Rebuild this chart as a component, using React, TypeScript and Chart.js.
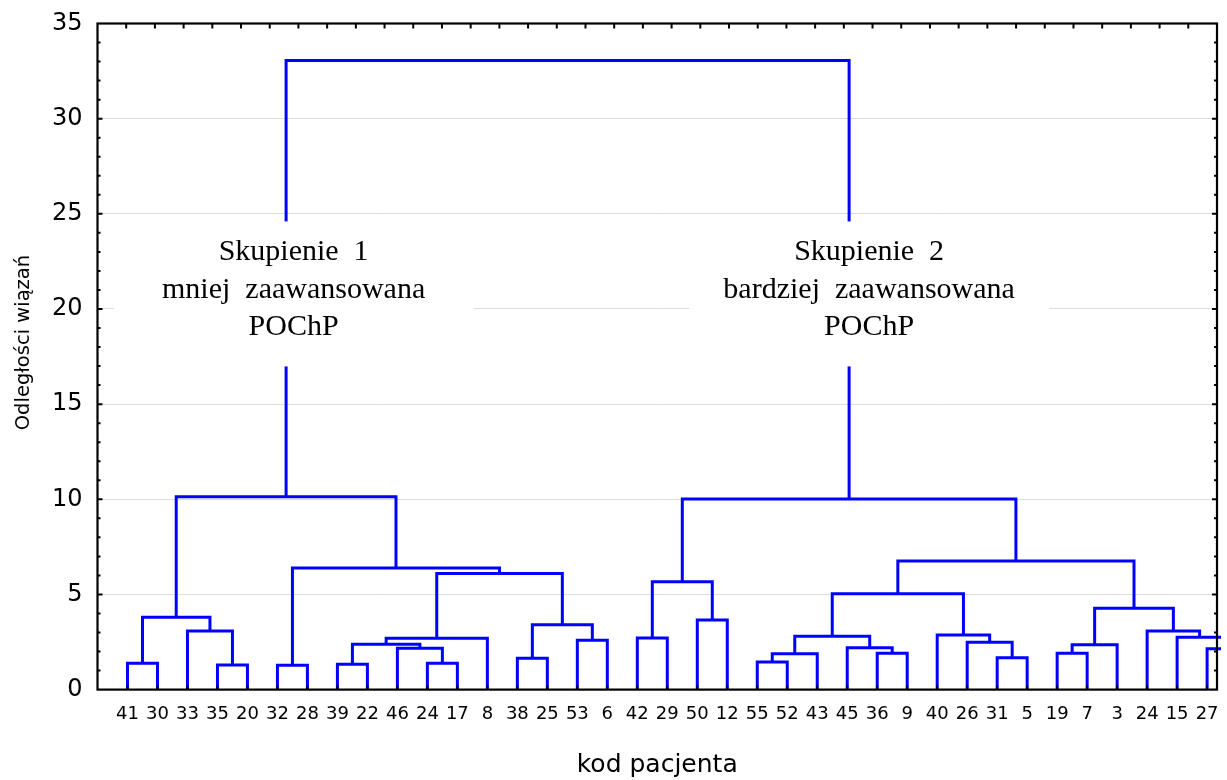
import React, { useEffect, useRef } from 'react';
import { Chart, registerables } from 'chart.js';

Chart.register(...registerables);

// Patient codes in dendrogram leaf order; the last leaf sits just past the right edge of the axis.
const leafLabels = [
  '41', '30', '33', '35', '20', '32', '28', '39', '22', '46', '24', '17', '8', '38', '25', '53', '6',
  '42', '29', '50', '12', '55', '52', '43', '45', '36', '9', '40', '26', '31', '5', '19', '7', '3',
  '24', '15', '27', '',
];

// Linkage table: merge k joins nodes mergeLeft[k] and mergeRight[k] at mergeHeight[k].
// Nodes 0..37 are leaves (by axis position); merge k creates node 38 + k.
const mergeLeft = [0, 3, 2, 38, 5, 7, 10, 9, 43, 46, 13, 15, 48, 47, 42, 41, 17, 19, 54, 21, 57, 25, 24, 58, 29, 28, 27, 61, 31, 66, 36, 35, 34, 67, 65, 56, 53];
const mergeRight = [1, 4, 39, 40, 6, 8, 11, 44, 45, 12, 14, 16, 49, 50, 51, 52, 18, 20, 55, 22, 23, 26, 59, 60, 30, 62, 63, 64, 32, 33, 37, 68, 69, 70, 71, 72, 73];
const mergeHeight = [
  1.38, 1.29, 3.08, 3.8, 1.28, 1.33, 1.38, 2.17, 2.38, 2.7, 1.65, 2.59, 3.41, 6.1, 6.39, 10.13,
  2.71, 3.66, 5.67, 1.45, 1.89, 1.91, 2.2, 2.8, 1.68, 2.49, 2.87, 5.03, 1.91, 2.36, 2.14, 2.75,
  3.08, 4.28, 6.76, 10.02, 33.06,
];

const yTicks = [0, 5, 10, 15, 20, 25, 30, 35];
const xTitle = 'kod pacjenta';
const yTitle = 'Odległości wiązań';

const clusterNoteLines = [
  ['Skupienie  1', 'mniej  zaawansowana', 'POChP'],
  ['Skupienie  2', 'bardziej  zaawansowana', 'POChP'],
];

// Placement of the cluster captions, in axis units.
const noteLayout = [
  { x: 5.54, halfWidth: 6, top: 24.6, bottom: 16.98, baselines: [22.56, 20.58, 18.65] },
  { x: 24.73, halfWidth: 6, top: 24.6, bottom: 16.98, baselines: [22.56, 20.58, 18.65] },
];

const SANS = '"DejaVu Sans", sans-serif';
const SERIF = '"Liberation Serif", "Times New Roman", serif';
const LINK_COLOR = '#0000ff';

type Pt = { x: number; y: number };

function buildLinks(): Pt[][] {
  const pos: number[] = leafLabels.map((_, i) => i);
  const height: number[] = leafLabels.map(() => 0);
  const links: Pt[][] = [];
  mergeLeft.forEach((l, k) => {
    const r = mergeRight[k];
    const h = mergeHeight[k];
    links.push([
      { x: pos[l], y: height[l] },
      { x: pos[l], y: h },
      { x: pos[r], y: h },
      { x: pos[r], y: height[r] },
    ]);
    pos.push((pos[l] + pos[r]) / 2);
    height.push(h);
  });
  return links;
}

// Frame, inward ticks, the vertical axis title and the cluster captions drawn over the tree.
const framePlugin = {
  id: 'dendroFrame',
  afterDatasetsDraw(chart: any) {
    const { ctx, chartArea: a, scales } = chart;
    const xs = scales.x;
    const ys = scales.y;
    const xt = scales.x2;
    ctx.save();

    noteLayout.forEach((n, i) => {
      const left = xs.getPixelForValue(n.x - n.halfWidth);
      const right = xs.getPixelForValue(n.x + n.halfWidth);
      const top = ys.getPixelForValue(n.top);
      const bottom = ys.getPixelForValue(n.bottom);
      ctx.fillStyle = '#ffffff';
      ctx.fillRect(left, top, right - left, bottom - top);
      ctx.fillStyle = '#000000';
      ctx.font = `30px ${SERIF}`;
      ctx.textAlign = 'center';
      ctx.textBaseline = 'alphabetic';
      const cx = xs.getPixelForValue(n.x);
      clusterNoteLines[i].forEach((t, j) => {
        ctx.fillText(t, cx, ys.getPixelForValue(n.baselines[j]));
      });
    });

    // vertical axis title
    ctx.save();
    ctx.translate(24, (a.top + a.bottom) / 2 - 14);
    ctx.rotate(-Math.PI / 2);
    ctx.font = `19.5px ${SANS}`;
    ctx.fillStyle = '#000000';
    ctx.textAlign = 'center';
    ctx.textBaseline = 'middle';
    ctx.fillText(yTitle, 0, 0);
    ctx.restore();

    ctx.strokeStyle = '#000000';
    ctx.lineWidth = 2;
    ctx.lineCap = 'butt';
    ctx.beginPath();
    // top ticks
    for (let v = 0; v <= 37; v++) {
      const px = xt.getPixelForValue(v);
      ctx.moveTo(px, a.top);
      ctx.lineTo(px, a.top + 5);
    }
    // bottom ticks at the leaves
    for (let v = 0; v < leafLabels.length - 1; v++) {
      const px = xs.getPixelForValue(v);
      ctx.moveTo(px, a.bottom);
      ctx.lineTo(px, a.bottom - 4);
    }
    // left and right ticks
    for (let v = 1; v < 35; v++) {
      const py = ys.getPixelForValue(v);
      const len = v % 5 === 0 ? 5 : 3;
      ctx.moveTo(a.left, py);
      ctx.lineTo(a.left + len, py);
      ctx.moveTo(a.right, py);
      ctx.lineTo(a.right - len, py);
    }
    ctx.stroke();

    ctx.lineWidth = 2.2;
    ctx.strokeRect(a.left, a.top, a.right - a.left, a.bottom - a.top);
    ctx.restore();
  },
};

export default function App() {
  const canvasRef = useRef<HTMLCanvasElement | null>(null);

  useEffect(() => {
    const canvas = canvasRef.current;
    if (!canvas) return;
    const links = buildLinks();
    const chart = new Chart(canvas, {
      type: 'scatter',
      data: {
        datasets: links.map((pts) => ({
          data: pts,
          showLine: true,
          borderColor: LINK_COLOR,
          borderWidth: 3,
          borderJoinStyle: 'miter' as const,
          pointRadius: 0,
          pointHoverRadius: 0,
          fill: false,
          tension: 0,
          clip: { left: 2, top: 2, right: 4, bottom: 0 },
        })),
      },
      options: {
        responsive: false,
        animation: false,
        events: [],
        layout: { padding: { top: 23.5, right: 10, left: 0, bottom: 0 } },
        plugins: {
          legend: { display: false },
          tooltip: { enabled: false },
        },
        scales: {
          x: {
            type: 'linear',
            position: 'bottom',
            min: -1,
            max: 36.33,
            afterFit: (s: any) => {
              s.height = 90.4;
              s.paddingLeft = 0;
              s.paddingRight = 0;
            },
            afterBuildTicks: (s: any) => {
              s.ticks = leafLabels.slice(0, leafLabels.length - 1).map((_, i) => ({ value: i }));
            },
            ticks: {
              autoSkip: false,
              maxRotation: 0,
              minRotation: 0,
              padding: 14,
              color: '#000000',
              font: { family: SANS, size: 18 },
              callback: (v: any) => leafLabels[Number(v)] ?? '',
            },
            grid: { display: false, drawTicks: false },
            border: { display: false },
            title: {
              display: true,
              text: xTitle,
              color: '#000000',
              font: { family: SANS, size: 25 },
              padding: { top: 0, bottom: 0 },
            },
          },
          x2: {
            type: 'linear',
            position: 'top',
            display: false,
            min: -1,
            max: 38,
          },
          y: {
            type: 'linear',
            min: 0,
            max: 35,
            afterFit: (s: any) => {
              s.width = 97.5;
              s.paddingTop = 0;
              s.paddingBottom = 0;
            },
            afterBuildTicks: (s: any) => {
              s.ticks = yTicks.map((v) => ({ value: v }));
            },
            ticks: {
              padding: 15,
              color: '#000000',
              font: { family: SANS, size: 24 },
            },
            grid: { color: '#dcdcdc', lineWidth: 1, drawTicks: false },
            border: { display: false },
          },
        },
      },
      plugins: [framePlugin],
    } as any);
    return () => chart.destroy();
  }, []);

  return (
    <div style={{ position: 'absolute', left: 0, top: 0, width: 1227, height: 780, background: '#ffffff' }}>
      <canvas ref={canvasRef} width={1227} height={780} style={{ display: 'block' }} />
    </div>
  );
}
